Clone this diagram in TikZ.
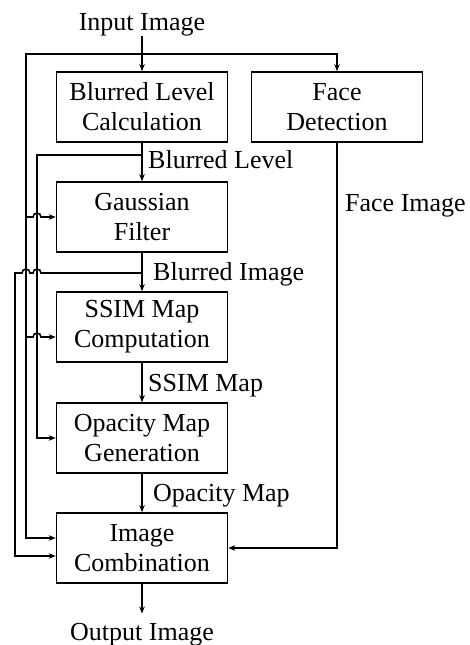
\documentclass[tikz,border=0pt]{standalone}
\usepackage{fontspec}
\setmainfont{Liberation Serif}
\usetikzlibrary{arrows.meta,calc}
\begin{document}
\begin{tikzpicture}[x=1pt,y=1pt,
  box/.style={draw,line width=1.6pt,minimum width=171pt,minimum height=70pt,align=center,inner sep=0pt,font=\fontsize{26}{30}\selectfont},
  lbl/.style={inner sep=0pt,anchor=base west,font=\fontsize{26}{30}\selectfont},
  txt/.style={inner sep=0pt,anchor=base,font=\fontsize{26}{30}\selectfont},
  conn/.style={line width=1.6pt},
  arr/.style={conn,-{Stealth[length=7pt,width=5.5pt]}},
]
\useasboundingbox (0,0) rectangle (470,-645);
% nodes
\node[txt] (in) at (142,-30) {Input Image};
\node[box] (blc) at (142,-107) {Blurred Level\\Calculation};
\node[box] (face) at (337,-107) {Face\\Detection};
\node[box] (gau) at (142,-217) {Gaussian\\Filter};
\node[box] (ssim) at (142,-327) {SSIM Map\\Computation};
\node[box] (opa) at (142,-438) {Opacity Map\\Generation};
\node[box] (comb) at (142,-548) {Image\\Combination};
\node[txt] (out) at (142,-640) {Output Image};
% labels
\node[lbl] (l1) at (148,-168) {Blurred Level};
\node[lbl] (l2) at (153,-280) {Blurred Image};
\node[lbl] (l3) at (148,-391) {SSIM Map};
\node[lbl] (l4) at (153,-501) {Opacity Map};
\node[lbl] (l5) at (345,-211) {Face Image};
% helper coordinates
\coordinate (cA) at (15,0);
\coordinate (cB) at (26,0);
\coordinate (cC) at (37,0);
\coordinate (jin) at (142,-54);
\coordinate (jbl) at (142,-155);
\coordinate (jbi) at (142,-273);
% main chain
\draw[arr] (in.south) -- (blc.north);
\draw[arr] (blc) -- (gau);
\draw[arr] (gau) -- (ssim);
\draw[arr] (ssim) -- (opa);
\draw[arr] (opa) -- (comb);
\draw[arr,shorten >=9pt] (comb.south) -- (out.north);
% input image distribution
\draw[arr] (jin) -| (face.north);
\draw[arr] (jin) -| (cB |- 0,-538) -- ($(comb.west)+(0,10)$);
\draw[arr] (cB |- gau.west) -- ($(cC |- gau.west)-(4,0)$) arc[start angle=180,end angle=0,radius=4] -- (gau.west);
\draw[arr] ($(cB |- ssim.west)+(0,-10)$) -- ($(cC |- ssim.west)+(-4,-10)$) arc[start angle=180,end angle=0,radius=4] -- ($(ssim.west)+(0,-10)$);
% blurred level
\draw[arr] (jbl) -| (cC |- opa.west) -- (opa.west);
% blurred image
\draw[arr] (jbi) -- ($(cC |- jbi)+(4,0)$) arc[start angle=0,end angle=180,radius=4]
  -- ($(cB |- jbi)+(4,0)$) arc[start angle=0,end angle=180,radius=4]
  -- (cA |- jbi) -- ($(cA |- comb.west)+(0,-8)$) -- ($(comb.west)+(0,-8)$);
% face image
\draw[arr] (face.south) |- (comb.east);
\end{tikzpicture}
\end{document}
